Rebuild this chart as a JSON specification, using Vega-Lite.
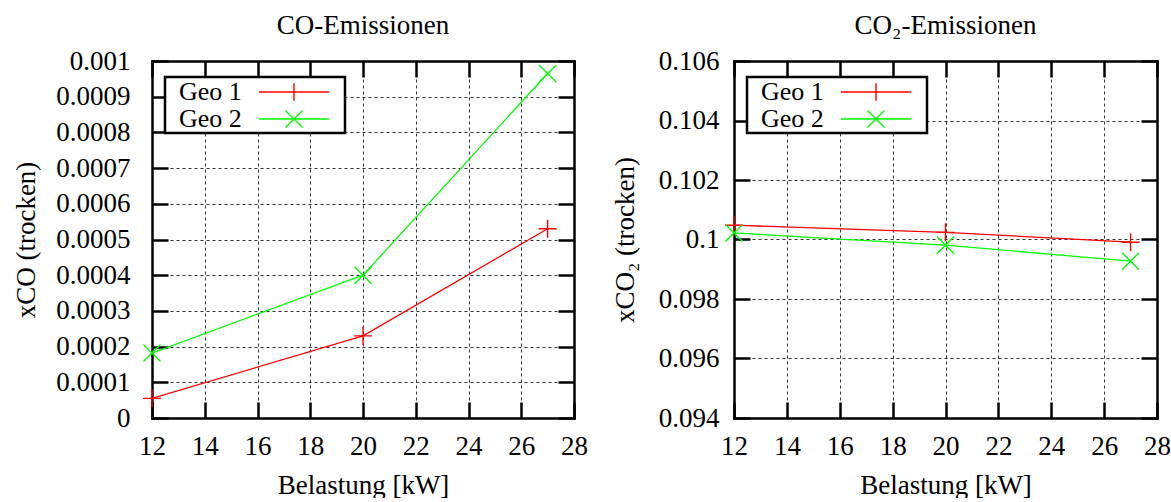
{
  "$schema": "https://vega.github.io/schema/vega-lite/v6.json",
  "background": "white",
  "padding": {"left": 12, "top": 12, "right": 0, "bottom": 0},
  "bounds": "flush",
  "spacing": 160,
  "config": {
    "font": "Liberation Serif",
    "view": {"stroke": null},
    "title": {"fontSize": 27, "fontWeight": "normal", "color": "black", "anchor": "middle", "frame": "group", "baseline": "alphabetic", "offset": 7},
    "axis": {
      "domainColor": "black", "domainWidth": 2.5, "domainCap": "square",
      "tickColor": "black", "tickWidth": 2.5, "tickSize": -16,
      "labelFont": "Liberation Serif", "labelFontSize": 27, "labelColor": "black", "labelFlush": false, "labelOverlap": false,
      "titleFont": "Liberation Serif", "titleFontSize": 27, "titleFontWeight": "normal", "titleColor": "black",
      "gridColor": "black", "gridDash": [3, 3], "gridWidth": 1, "gridOpacity": 0.8
    },
    "legend": {
      "title": null, "orient": "none", "legendX": 13, "legendY": 16, "direction": "vertical",
      "labelFont": "Liberation Serif", "labelFontSize": 26, "labelColor": "black",
      "labelOffset": -129, "symbolOffset": 114, "symbolSize": 676, "symbolStrokeWidth": 1.4,
      "fillColor": "white", "strokeColor": "black", "padding": 1, "rowPadding": -1, "cornerRadius": 0
    }
  },
  "datasets": {
    "co": [
      {"kW": 12, "geo": "Geo 1", "x": 0.000055},
      {"kW": 20, "geo": "Geo 1", "x": 0.00023},
      {"kW": 27, "geo": "Geo 1", "x": 0.00053},
      {"kW": 12, "geo": "Geo 2", "x": 0.000182},
      {"kW": 20, "geo": "Geo 2", "x": 0.0004},
      {"kW": 27, "geo": "Geo 2", "x": 0.000965}
    ],
    "co2": [
      {"kW": 12, "geo": "Geo 1", "x": 0.10048},
      {"kW": 20, "geo": "Geo 1", "x": 0.10024},
      {"kW": 27, "geo": "Geo 1", "x": 0.09991},
      {"kW": 12, "geo": "Geo 2", "x": 0.10022},
      {"kW": 20, "geo": "Geo 2", "x": 0.09981},
      {"kW": 27, "geo": "Geo 2", "x": 0.09927}
    ]
  },
  "resolve": {
    "scale": {"x": "independent", "y": "independent", "color": "independent"},
    "legend": {"color": "independent"}
  },
  "hconcat": [
    {
      "title": "CO-Emissionen",
      "width": 422, "height": 357,
      "data": {"name": "co"},
      "resolve": {"axis": {"x": "independent", "y": "independent"}},
      "layer": [
        {
          "mark": {"type": "line", "strokeWidth": 1.3},
          "encoding": {
            "x": {"field": "kW", "type": "quantitative", "scale": {"domain": [12, 28], "nice": false, "zero": false},
                  "axis": {"orient": "bottom", "values": [12, 14, 16, 18, 20, 22, 24, 26, 28], "grid": true, "labelPadding": 31, "title": "Belastung [kW]", "titlePadding": 13}},
            "y": {"field": "x", "type": "quantitative", "scale": {"domain": [0, 0.001], "nice": false},
                  "axis": {"orient": "left", "values": [0, 0.0001, 0.0002, 0.0003, 0.0004, 0.0005, 0.0006, 0.0007, 0.0008, 0.0009, 0.001], "grid": true,
                           "labelExpr": "format(datum.value, '.4~f')", "labelPadding": 38, "title": "xCO (trocken)", "titlePadding": 15}},
            "color": {"field": "geo", "type": "nominal", "scale": {"domain": ["Geo 1", "Geo 2"], "range": ["#ff0000", "#00ff00"]},
                      "legend": {"encode": {
                        "symbols": {"update": {
                          "shape": {"signal": "datum.value === 'Geo 1' ? 'M-2.7,0H2.7M0,-0.68V0.68M3.6,0' : 'M-2.7,0H2.7M-0.66,-0.66L0.66,0.66M-0.66,0.66L0.66,-0.66M3.6,0'"},
                          "size": {"value": 676},
                          "stroke": {"signal": "datum.value === 'Geo 1' ? '#ff0000' : '#00ff00'"},
                          "fill": {"value": "transparent"},
                          "strokeWidth": {"value": 1.4}
                        }},
                        "legend": {"update": {"strokeWidth": {"value": 2.5}}}
                      }}}
          }
        },
        {
          "transform": [{"filter": "datum.geo === 'Geo 1'"}],
          "mark": {"type": "point", "shape": "M-1,0H1M0,-1V1", "filled": false, "opacity": 1, "strokeWidth": 1.4, "size": 324},
          "encoding": {
            "x": {"field": "kW", "type": "quantitative", "scale": {"domain": [12, 28], "nice": false, "zero": false},
                  "axis": {"orient": "top", "values": [12, 14, 16, 18, 20, 22, 24, 26, 28], "grid": false, "labels": false, "title": null}},
            "y": {"field": "x", "type": "quantitative", "scale": {"domain": [0, 0.001], "nice": false},
                  "axis": {"orient": "right", "values": [0, 0.0001, 0.0002, 0.0003, 0.0004, 0.0005, 0.0006, 0.0007, 0.0008, 0.0009, 0.001], "grid": false, "labels": false, "title": null}},
            "color": {"field": "geo", "type": "nominal", "scale": {"domain": ["Geo 1", "Geo 2"], "range": ["#ff0000", "#00ff00"]}}
          }
        },
        {
          "transform": [{"filter": "datum.geo === 'Geo 2'"}],
          "mark": {"type": "point", "shape": "M-0.95,-0.95L0.95,0.95M-0.95,0.95L0.95,-0.95", "filled": false, "opacity": 1, "strokeWidth": 1.4, "size": 324},
          "encoding": {
            "x": {"field": "kW", "type": "quantitative", "scale": {"domain": [12, 28], "nice": false, "zero": false}, "axis": null},
            "y": {"field": "x", "type": "quantitative", "scale": {"domain": [0, 0.001], "nice": false}, "axis": null},
            "color": {"field": "geo", "type": "nominal", "scale": {"domain": ["Geo 1", "Geo 2"], "range": ["#ff0000", "#00ff00"]}}
          }
        }
      ]
    },
    {
      "title": "CO₂-Emissionen",
      "width": 423, "height": 357,
      "data": {"name": "co2"},
      "resolve": {"axis": {"x": "independent", "y": "independent"}},
      "layer": [
        {
          "mark": {"type": "line", "strokeWidth": 1.3},
          "encoding": {
            "x": {"field": "kW", "type": "quantitative", "scale": {"domain": [12, 28], "nice": false, "zero": false},
                  "axis": {"orient": "bottom", "values": [12, 14, 16, 18, 20, 22, 24, 26, 28], "grid": true, "labelPadding": 31, "title": "Belastung [kW]", "titlePadding": 13}},
            "y": {"field": "x", "type": "quantitative", "scale": {"domain": [0.094, 0.106], "nice": false, "zero": false},
                  "axis": {"orient": "left", "values": [0.094, 0.096, 0.098, 0.1, 0.102, 0.104, 0.106], "grid": true,
                           "labelExpr": "format(datum.value, '.3~f')", "labelPadding": 31, "title": "xCO₂ (trocken)", "titlePadding": 19}},
            "color": {"field": "geo", "type": "nominal", "scale": {"domain": ["Geo 1", "Geo 2"], "range": ["#ff0000", "#00ff00"]},
                      "legend": {"encode": {
                        "symbols": {"update": {
                          "shape": {"signal": "datum.value === 'Geo 1' ? 'M-2.7,0H2.7M0,-0.68V0.68M3.6,0' : 'M-2.7,0H2.7M-0.66,-0.66L0.66,0.66M-0.66,0.66L0.66,-0.66M3.6,0'"},
                          "size": {"value": 676},
                          "stroke": {"signal": "datum.value === 'Geo 1' ? '#ff0000' : '#00ff00'"},
                          "fill": {"value": "transparent"},
                          "strokeWidth": {"value": 1.4}
                        }},
                        "legend": {"update": {"strokeWidth": {"value": 2.5}}}
                      }}}
          }
        },
        {
          "transform": [{"filter": "datum.geo === 'Geo 1'"}],
          "mark": {"type": "point", "shape": "M-1,0H1M0,-1V1", "filled": false, "opacity": 1, "strokeWidth": 1.4, "size": 324},
          "encoding": {
            "x": {"field": "kW", "type": "quantitative", "scale": {"domain": [12, 28], "nice": false, "zero": false},
                  "axis": {"orient": "top", "values": [12, 14, 16, 18, 20, 22, 24, 26, 28], "grid": false, "labels": false, "title": null}},
            "y": {"field": "x", "type": "quantitative", "scale": {"domain": [0.094, 0.106], "nice": false, "zero": false},
                  "axis": {"orient": "right", "values": [0.094, 0.096, 0.098, 0.1, 0.102, 0.104, 0.106], "grid": false, "labels": false, "title": null}},
            "color": {"field": "geo", "type": "nominal", "scale": {"domain": ["Geo 1", "Geo 2"], "range": ["#ff0000", "#00ff00"]}}
          }
        },
        {
          "transform": [{"filter": "datum.geo === 'Geo 2'"}],
          "mark": {"type": "point", "shape": "M-0.95,-0.95L0.95,0.95M-0.95,0.95L0.95,-0.95", "filled": false, "opacity": 1, "strokeWidth": 1.4, "size": 324},
          "encoding": {
            "x": {"field": "kW", "type": "quantitative", "scale": {"domain": [12, 28], "nice": false, "zero": false}, "axis": null},
            "y": {"field": "x", "type": "quantitative", "scale": {"domain": [0.094, 0.106], "nice": false, "zero": false}, "axis": null},
            "color": {"field": "geo", "type": "nominal", "scale": {"domain": ["Geo 1", "Geo 2"], "range": ["#ff0000", "#00ff00"]}}
          }
        }
      ]
    }
  ]
}
